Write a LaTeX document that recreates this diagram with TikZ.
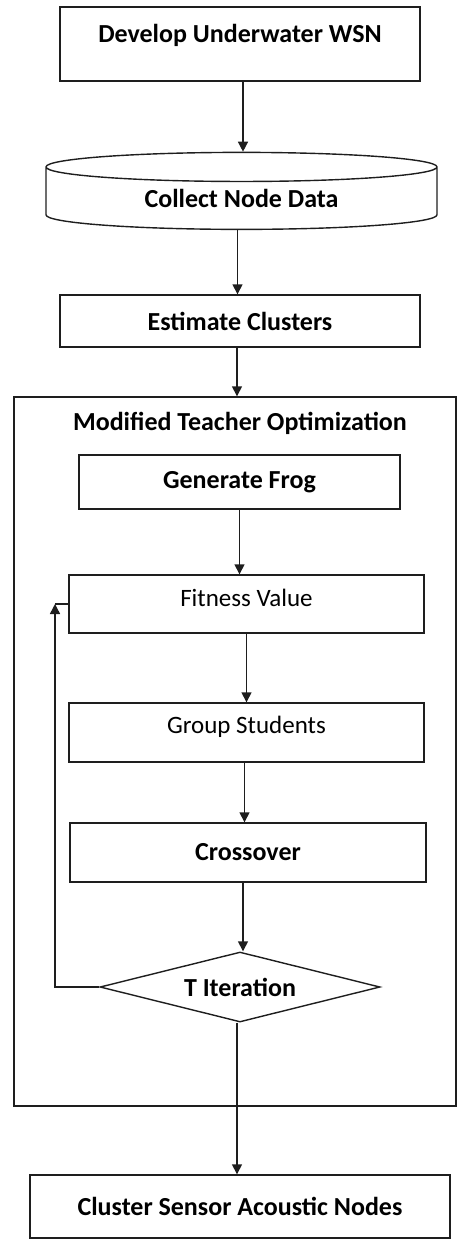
\documentclass[tikz,border=0pt]{standalone}
\usepackage{fontspec}
\setmainfont{Carlito}
\usepackage{tikz}
\usetikzlibrary{arrows.meta,positioning,shapes.geometric,calc}

\definecolor{flowInk}{RGB}{30,30,30}

\tikzset{
  stage/.style={draw=flowInk, line width=1.4pt, rectangle, inner sep=0pt,
                font=\fontsize{26}{30}\selectfont\bfseries},
  store/.style={draw=flowInk, line width=1.4pt, cylinder, shape border rotate=90,
                aspect=0.15, inner sep=0pt, font=\fontsize{26}{30}\selectfont\bfseries},
  check/.style={draw=flowInk, line width=1.4pt, diamond, aspect=4, inner sep=0pt,
                font=\fontsize{26}{30}\selectfont\bfseries},
  flow/.style={draw=flowInk, line width=1.4pt, -{Triangle[length=10pt,width=10pt]}}
}

\begin{document}
\begin{tikzpicture}[x=1pt,y=-1pt]
  \useasboundingbox (0,0) rectangle (457,1243);

  % main chain
  \node[stage, minimum width=360pt, minimum height=74pt, text depth=22pt] (dev) at (240,44) {Develop Underwater WSN};
  \node[store, minimum width=391pt, minimum height=77pt] (cnd) at (241.5,198.5) {Collect Node Data};
  \node[stage, minimum width=360pt, minimum height=52pt] (est) at (240,321) {Estimate Clusters};

  % optimisation block
  \node[draw=flowInk, line width=1.4pt, minimum width=442pt, minimum height=709pt] (mto) at (235,751.5) {};
  \node[font=\fontsize{26}{30}\selectfont\bfseries] (mtotitle) at (240,423) {Modified Teacher Optimization};
  \node[stage, minimum width=321pt, minimum height=54pt] (gen) at (239.5,482) {Generate Frog};
  \node[stage, minimum width=355pt, minimum height=58pt, text depth=12pt, font=\fontsize{25}{30}\selectfont] (fit) at (246.5,604) {Fitness Value};
  \node[stage, minimum width=355pt, minimum height=59pt, text depth=16pt, font=\fontsize{25}{30}\selectfont] (grp) at (246.5,732.5) {Group Students};
  \node[stage, minimum width=356pt, minimum height=59pt] (cro) at (248,852.5) {Crossover};
  \node[check, minimum width=280pt, minimum height=70pt] (tit) at (240,987) {T Iteration};

  \node[stage, minimum width=420pt, minimum height=63pt] (csa) at (240,1206.5) {Cluster Sensor Acoustic Nodes};

  % arrows
  \draw[flow] ([xshift=3pt]dev.south) -- ([xshift=3pt]dev.south |- cnd.north);
  \draw[flow] ([xshift=-4pt]cnd.south) -- ([xshift=-4pt]cnd.south |- est.north);
  \draw[flow] ([xshift=-3pt]est.south) -- ([xshift=-3pt]est.south |- mto.north);
  \draw[flow] (gen.south) -- (gen.south |- fit.north);
  \draw[flow] (fit.south) -- (fit.south |- grp.north);
  \draw[flow] ([xshift=-2pt]grp.south) -- ([xshift=-2pt]grp.south |- cro.north);
  \draw[flow] ([xshift=-5pt]cro.south) -- ([xshift=-5pt]cro.south |- tit.north);
  \draw[flow] ([xshift=-3pt]tit.south) -- ([xshift=-3pt]tit.south |- csa.north);

  % loop back
  \coordinate (back) at (55,604);
  \draw[flow] (tit.west) -| (back);
  \draw[draw=flowInk, line width=1.4pt] (back) -- (fit.west);
\end{tikzpicture}
\end{document}
